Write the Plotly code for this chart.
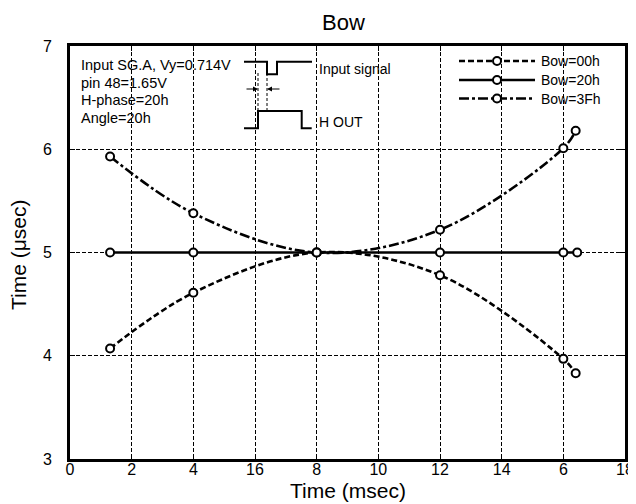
import plotly.graph_objects as go

# ---------------- data ----------------
x_bow00 = [1.3, 4, 8, 12, 16, 16.4]
y_bow00 = [4.07, 4.61, 5.0, 4.78, 3.97, 3.83]
x_bow20 = [1.3, 4, 8, 12, 16, 16.45]
y_bow20 = [5.0, 5.0, 5.0, 5.0, 5.0, 5.0]
x_bow3f = [1.3, 4, 8, 12, 16, 16.4]
y_bow3f = [5.93, 5.38, 5.0, 5.22, 6.01, 6.18]

series_names = ["Bow=00h", "Bow=20h", "Bow=3Fh"]
x_tickvals = [0, 2, 4, 6, 8, 10, 12, 14, 16, 18]
x_ticktext = ["0", "2", "4", "16", "8", "10", "12", "14", "6", "18"]
y_tickvals = [3, 4, 5, 6, 7]

info_lines = ["Input SG.A, Vy=0.714V", "pin 48=1.65V", "H-phase=20h", "Angle=20h"]

# ---------------- layout geometry ----------------
# the page body has an 8px margin, so the figure is sized/positioned to compensate
OFF = 8
W, H = 636, 496
L, T = 62, 38
PW, PH = 555, 413
R, B = W - L - PW, H - T - PH
FONT = "Liberation Sans, Arial, sans-serif"


def px(xp):  # window pixel -> paper x
    return (xp - OFF - L) / PW


def py(yp):  # window pixel -> paper y
    return (T + PH - (yp - OFF)) / PH


dash00 = "6px,3px"
dash3f = "10px,3px,3px,3px"
styles = [dash00, "solid", dash3f]

fig = go.Figure()
for xs, ys, name, dash in [(x_bow00, y_bow00, series_names[0], dash00),
                           (x_bow20, y_bow20, series_names[1], "solid"),
                           (x_bow3f, y_bow3f, series_names[2], dash3f)]:
    fig.add_trace(go.Scatter(
        x=xs, y=ys, name=name, mode="lines+markers",
        line=dict(color="black", width=2.6, dash=dash, shape="spline", smoothing=1.0),
        marker=dict(symbol="circle", size=8, color="white",
                    line=dict(color="black", width=2)),
        showlegend=False, cliponaxis=False))

shapes = []
annotations = []

# white boxes hiding gridlines under the info block and legend
shapes.append(dict(type="rect", xref="paper", yref="paper", layer="between",
                   x0=0, x1=px(420), y0=py(135), y1=1,
                   fillcolor="white", line=dict(width=0)))
shapes.append(dict(type="rect", xref="paper", yref="paper", layer="between",
                   x0=px(447), x1=1, y0=py(114), y1=1,
                   fillcolor="white", line=dict(width=0)))

# info text
for i, t in enumerate(info_lines):
    annotations.append(dict(xref="paper", yref="paper", x=px(79), y=py(65 + 17.7 * i),
                            xanchor="left", yanchor="middle", text=t, showarrow=False,
                            font=dict(family=FONT, size=14.5, color="black")))

# waveforms (decorative diagram)
blk = dict(color="black", width=2)
input_path = [(244, 61.7), (267, 61.7), (267, 74.3), (277, 74.3), (277, 61.7), (312, 61.7)]
hout_path = [(244, 128.3), (258, 128.3), (258, 111), (301.7, 111), (301.7, 128.3), (311.7, 128.3)]
for path in (input_path, hout_path):
    d = "M " + " L ".join(f"{px(a):.5f},{py(b):.5f}" for a, b in path)
    shapes.append(dict(type="path", xref="paper", yref="paper", path=d, line=blk, layer="above"))
for xv in (258, 267):
    shapes.append(dict(type="line", xref="paper", yref="paper", x0=px(xv), x1=px(xv),
                       y0=py(73), y1=py(110), line=dict(color="black", width=1, dash="3px,2px"),
                       layer="above"))
annotations.append(dict(xref="paper", yref="paper", x=px(258), y=py(89), ax=-13, ay=0,
                        text="", showarrow=True,
                        arrowhead=2, arrowsize=1, arrowwidth=1, arrowcolor="black"))
annotations.append(dict(xref="paper", yref="paper", x=px(267), y=py(89), ax=14, ay=0,
                        text="", showarrow=True,
                        arrowhead=2, arrowsize=1, arrowwidth=1, arrowcolor="black"))
annotations.append(dict(xref="paper", yref="paper", x=px(317), y=py(69), xanchor="left",
                        yanchor="middle", text="Input signal", showarrow=False,
                        font=dict(family=FONT, size=14, color="black")))
annotations.append(dict(xref="paper", yref="paper", x=px(317), y=py(121.5), xanchor="left",
                        yanchor="middle", text="H OUT", showarrow=False,
                        font=dict(family=FONT, size=14, color="black")))

# custom legend
rows = [61, 80, 98.5]
for name, dash, yr in zip(series_names, styles, rows):
    shapes.append(dict(type="line", xref="paper", yref="paper", x0=px(459), x1=px(535),
                       y0=py(yr), y1=py(yr), line=dict(color="black", width=2.6, dash=dash),
                       layer="above"))
    shapes.append(dict(type="circle", xref="paper", yref="paper", xsizemode="pixel",
                       ysizemode="pixel", xanchor=px(497), yanchor=py(yr),
                       x0=-4, x1=4, y0=-4, y1=4, fillcolor="white",
                       line=dict(color="black", width=2), layer="above"))
    annotations.append(dict(xref="paper", yref="paper", x=px(539), y=py(yr), xanchor="left",
                            yanchor="middle", text=name, showarrow=False,
                            font=dict(family=FONT, size=14, color="black")))

# title and axis titles
annotations.append(dict(xref="paper", yref="paper", x=px(343.5), y=py(22), xanchor="center",
                        yanchor="middle", text="Bow", showarrow=False,
                        font=dict(family=FONT, size=22, color="black")))
annotations.append(dict(xref="paper", yref="paper", x=px(347.5), y=py(491), xanchor="center",
                        yanchor="middle", text="Time (msec)", showarrow=False,
                        font=dict(family=FONT, size=21, color="black")))
annotations.append(dict(xref="paper", yref="paper", x=px(19), y=py(255), xanchor="center",
                        yanchor="middle", text="Time (μsec)", showarrow=False, textangle=-90,
                        font=dict(family=FONT, size=21, color="black")))

fig.update_layout(
    width=W, height=H,
    margin=dict(l=L, r=R, t=T, b=B, autoexpand=False),
    paper_bgcolor="white", plot_bgcolor="white",
    font=dict(family=FONT, color="black"),
    shapes=shapes, annotations=annotations,
    showlegend=False,
)
fig.update_xaxes(range=[0, 18], tickvals=x_tickvals, ticktext=x_ticktext,
                 showline=True, linecolor="black", linewidth=3, mirror="ticks",
                 ticks="inside", ticklen=5, tickwidth=1, tickcolor="black",
                 showgrid=True, gridcolor="black", gridwidth=1, griddash="4px,2px",
                 zeroline=False, tickfont=dict(family=FONT, size=16), ticklabelstandoff=-6)
fig.update_yaxes(range=[3, 7], tickvals=y_tickvals,
                 showline=True, linecolor="black", linewidth=3, mirror="ticks",
                 ticks="inside", ticklen=5, tickwidth=1, tickcolor="black",
                 showgrid=True, gridcolor="black", gridwidth=1, griddash="4px,2px",
                 zeroline=False, tickfont=dict(family=FONT, size=16), ticklabelstandoff=12)

fig.write_html("out.html")
